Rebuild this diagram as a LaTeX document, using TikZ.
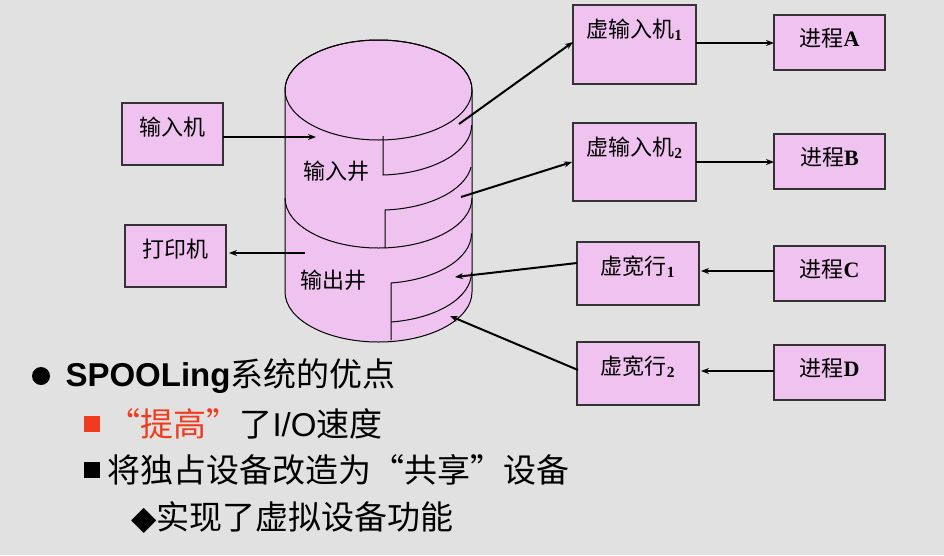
\documentclass[tikz,border=0pt]{standalone}
\usepackage{fontspec}
\setmainfont{Liberation Serif}
\newfontfamily\cjk{Noto Sans CJK SC}
\newfontfamily\arial{Liberation Sans}
\usetikzlibrary{arrows.meta}
\definecolor{bg}{HTML}{E1E1E1}
\definecolor{pk}{HTML}{F0C2F0}
\definecolor{rd}{HTML}{F03C1E}
\begin{document}
\begin{tikzpicture}[x=1pt,y=-1pt,
  box/.style={draw=black!80,fill=pk,line width=1.2pt},
  arr/.style={line width=2pt,-{Stealth[length=8pt,width=6pt]}},
  cyl/.style={line width=1pt},
  bul/.style={anchor=west,font=\cjk\fontsize{33}{36}\selectfont}]
\fill[bg] (0,0) rectangle (944,555);
\useasboundingbox (0,0) rectangle (944,555);
% cylinder
\fill[pk,draw=black,cyl] (285,90) -- (285,292) arc[start angle=180,end angle=360,x radius=93.5pt,y radius=50pt] -- (472,90) arc[start angle=0,end angle=180,x radius=93.5pt,y radius=50pt] -- cycle;
\draw[cyl] (378.5,90) ellipse[x radius=93.5pt,y radius=50pt];
\draw[cyl] (383,136) -- (383,175) arc[start angle=273,end angle=360,x radius=93.5pt,y radius=50pt];
\draw[cyl] (285,198) arc[start angle=180,end angle=360,x radius=93.5pt,y radius=50pt];
\draw[cyl] (385,248) -- (385,210) arc[start angle=274,end angle=352,x radius=93.5pt,y radius=50pt];
\draw[cyl] (391,340) -- (391,283) arc[start angle=278,end angle=360,x radius=93.5pt,y radius=50pt];
\draw[cyl] (391,322) arc[start angle=278,end angle=360,x radius=93.5pt,y radius=50pt];
\node[font=\cjk\fontsize{22}{24}\selectfont] (jin) at (336,171) {输入井};
\node[font=\cjk\fontsize{22}{24}\selectfont] (jout) at (333,280) {输出井};
\coordinate (cin) at (316,137);
\coordinate (cout) at (305,253);
\coordinate (c1) at (459,124);
\coordinate (c2) at (461,197);
\coordinate (c3) at (455,277);
\coordinate (c4) at (450,316);
% boxes
\newcommand\bx[6]{\draw[box] (#2,#3) rectangle (#4,#5); \node[inner sep=0] (#1) at ({(#2+#4)/2},{(#3+#5)/2}) {}; \node[font=\cjk\fontsize{22}{24}\selectfont,anchor=north] (#1t) at ({(#2+#4)/2},{#3+10}) {#6};}
\bx{in}{122}{103}{223}{165}{输入机}
\bx{pr}{125}{225}{226}{287}{打印机}
\bx{v1}{573}{5}{696}{84}{虚输入机\textsubscript{\normalfont\bfseries 1}}
\bx{v2}{573}{123}{696}{201}{虚输入机\textsubscript{\normalfont\bfseries 2}}
\bx{w1}{577}{242}{699}{305}{虚宽行\textsubscript{\normalfont\bfseries 1}}
\bx{w2}{577}{342}{699}{405}{虚宽行\textsubscript{\normalfont\bfseries 2}}
\bx{pa}{774}{15}{885}{70}{进程{\normalfont\bfseries A}}
\bx{pb}{774}{134}{885}{189}{进程{\normalfont\bfseries B}}
\bx{pc}{774}{246}{885}{301}{进程{\normalfont\bfseries C}}
\bx{pd}{774}{345}{885}{400}{进程{\normalfont\bfseries D}}
% arrows
\draw[arr] (223,137) -- (cin);
\draw[arr] (cout) -- (229,253);
\draw[arr] (c1) -- (573,42);
\draw[arr] (c2) -- (572,162);
\draw[arr] (577,263) -- (c3);
\draw[arr] (578,370) -- (c4);
\draw[arr] (696,43) -- (774,43);
\draw[arr] (696,162) -- (774,162);
\draw[arr] (774,271) -- (701,271);
\draw[arr] (774,371) -- (701,371);
% bullets
\fill (41,376) circle (9pt);
\node[bul] (b1) at (62,376) {{\arial\bfseries SPOOLing}系统的优点};
\fill[rd] (84,416) rectangle (100,432);
\node[bul] (b2) at (104,424) {\textcolor{rd}{“提高”}了{\arial I/O}速度};
\fill (84,462) rectangle (100,478);
\node[bul] (b3) at (104,470) {将独占设备改造为“共享”设备};
\node[bul] (b4) at (128,518) {{\fontspec{DejaVu Sans}◆}实现了虚拟设备功能};
\end{tikzpicture}
\end{document}
